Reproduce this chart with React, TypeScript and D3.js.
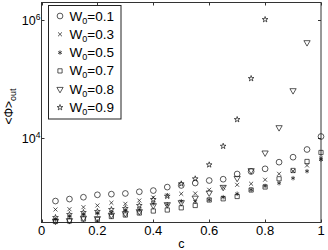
import React, { useEffect, useRef } from 'react';
import * as d3 from 'd3';

// c values (x axis)
const cValues = [0.05, 0.1, 0.15, 0.2, 0.25, 0.3, 0.35, 0.4, 0.45, 0.5, 0.55, 0.6, 0.65, 0.7, 0.75, 0.8, 0.85, 0.9, 0.95, 1.0];

// <Φ>_out per W0 (log axis)
const w01 = [870, 940, 1010, 1110, 1140, 1170, 1250, 1310, 1500, 1600, 1760, 1940, 2040, 2500, 2760, 3060, 3970, 4820, 6510, 10800];
const w03 = [626, 633, 685, 732, 813, 782, 890, 1000, 1080, 1155, 1170, 1350, 1480, 1640, 1710, 2000, 2520, 2810, 3490, 4580];
const w05 = [424, 476, 515, 536, 557, 602, 626, 791, 761, 865, 855, 914, 1012, 1155, 1351, 1566, 1747, 2124, 2791, 4406];
const w07 = [392, 400, 432, 424, 476, 505, 546, 590, 614, 669, 732, 907, 951, 1040, 1340, 1507, 2075, 2868, 4076, 5790];
const w08 = [400, 408, 449, 441, 505, 536, 579, 732, 761, 823, 981, 1201, 1495, 2124, 2868, 5722, 15360, 65100, 423800];
const w09 = [458, 515, 557, 579, 626, 651, 732, 925, 1052, 1707, 2075, 3583, 7404, 20990, 103970, 1039700];

const legendLabels = ['0.1', '0.3', '0.5', '0.7', '0.8', '0.9'];
const xTicks = [0, 0.2, 0.4, 0.6, 0.8, 1];
const yTickExps = [4, 6];
const yDomain = [Math.pow(10, 2.576), Math.pow(10, 6.305)];

const W = 328;
const H = 250;
const margin = { left: 41.5, right: 7, top: 2.5, bottom: 27.5 };
const FONT = '"Liberation Sans", Arial, Helvetica, sans-serif';

export default function App() {
    const ref = useRef(null);

    useEffect(() => {
        const svg = d3.select(ref.current);
        svg.selectAll('*').remove();

        const x = d3.scaleLinear().domain([0, 1]).range([margin.left, W - margin.right]);
        const y = d3.scaleLog().domain(yDomain).range([H - margin.bottom, margin.top]);
        const [x0, x1] = x.range();
        const [y0, y1] = y.range();

        const sym = d3 as any;
        const shapes = [
            { data: w01, type: d3.symbolCircle, size: 26, rot: 0 },
            { data: w03, type: sym.symbolTimes || sym.symbolX || d3.symbolCross, size: 12, rot: 0 },
            { data: w05, type: sym.symbolAsterisk || d3.symbolCross, size: 14, rot: 0 },
            { data: w07, type: d3.symbolSquare, size: 18, rot: 0 },
            { data: w08, type: d3.symbolTriangle, size: 17, rot: 180 },
            { data: w09, type: d3.symbolStar, size: 10, rot: 0 },
        ];

        // axes box
        svg.append('rect')
            .attr('x', x0).attr('y', y1)
            .attr('width', x1 - x0).attr('height', y0 - y1)
            .attr('fill', 'white').attr('stroke', '#333').attr('stroke-width', 1);

        // x ticks (bottom + top, inward)
        xTicks.forEach((t) => {
            const px = Math.round(x(t)) + 0.5;
            svg.append('line').attr('x1', px).attr('x2', px).attr('y1', y0).attr('y2', y0 - 3).attr('stroke', '#333');
            svg.append('line').attr('x1', px).attr('x2', px).attr('y1', y1).attr('y2', y1 + 3).attr('stroke', '#333');
            svg.append('text')
                .attr('x', x(t)).attr('y', y0 + 12.5)
                .attr('text-anchor', 'middle')
                .attr('font-family', FONT).attr('font-size', 13)
                .text(d3.format('~g')(t));
        });

        // y ticks (left + right, inward)
        yTickExps.forEach((e) => {
            const py = Math.round(y(Math.pow(10, e))) + 0.5;
            svg.append('line').attr('x1', x0).attr('x2', x0 + 3).attr('y1', py).attr('y2', py).attr('stroke', '#333');
            svg.append('line').attr('x1', x1).attr('x2', x1 - 3).attr('y1', py).attr('y2', py).attr('stroke', '#333');
            const t = svg.append('text')
                .attr('x', x0 - 1).attr('y', py + 4.5)
                .attr('text-anchor', 'end')
                .attr('font-family', FONT).attr('font-size', 12.5);
            t.append('tspan').text('10');
            t.append('tspan').attr('dy', -5).attr('font-size', 8.5).text(String(e));
        });

        // points
        shapes.forEach((s) => {
            const gen = d3.symbol().type(s.type).size(s.size);
            svg.append('g')
                .selectAll('path')
                .data(s.data)
                .enter()
                .append('path')
                .attr('d', gen)
                .attr('transform', (d, i) => `translate(${x(cValues[i])},${y(d)}) rotate(${s.rot})`)
                .attr('fill', 'none')
                .attr('stroke', '#111')
                .attr('stroke-width', 0.7);
        });

        // axis labels
        svg.append('text')
            .attr('x', (x0 + x1) / 2).attr('y', H - 2)
            .attr('text-anchor', 'middle')
            .attr('font-family', FONT).attr('font-size', 12.5)
            .text('c');

        const yl = svg.append('text')
            .attr('transform', `translate(12.5, ${(y0 + y1) / 2 - 6}) rotate(-90)`)
            .attr('text-anchor', 'middle')
            .attr('font-family', FONT).attr('font-size', 12);
        yl.append('tspan').text('<Φ>');
        yl.append('tspan').attr('dy', 3).attr('font-size', 9).text('out');

        // legend
        const lg = svg.append('g');
        lg.append('rect')
            .attr('x', 48.5).attr('y', 5.5)
            .attr('width', 72.5).attr('height', 113.5)
            .attr('fill', 'white').attr('stroke', '#222').attr('stroke-width', 1);
        shapes.forEach((s, i) => {
            const cy = 16 + i * 18.3;
            lg.append('path')
                .attr('d', d3.symbol().type(s.type).size(s.size)())
                .attr('transform', `translate(60,${cy}) rotate(${s.rot})`)
                .attr('fill', 'none').attr('stroke', '#111').attr('stroke-width', 0.7);
            const t = lg.append('text')
                .attr('x', 69.5).attr('y', cy + 4.5)
                .attr('font-family', FONT).attr('font-size', 13.5);
            t.append('tspan').text('W');
            t.append('tspan').attr('dy', 3).attr('font-size', 9).text('0');
            t.append('tspan').attr('dy', -3).text('=' + legendLabels[i]);
        });
    }, []);

    return (
        <svg
            ref={ref}
            width={W}
            height={H}
            style={{ position: 'absolute', left: 0, top: 0, background: 'white' }}
        />
    );
}
